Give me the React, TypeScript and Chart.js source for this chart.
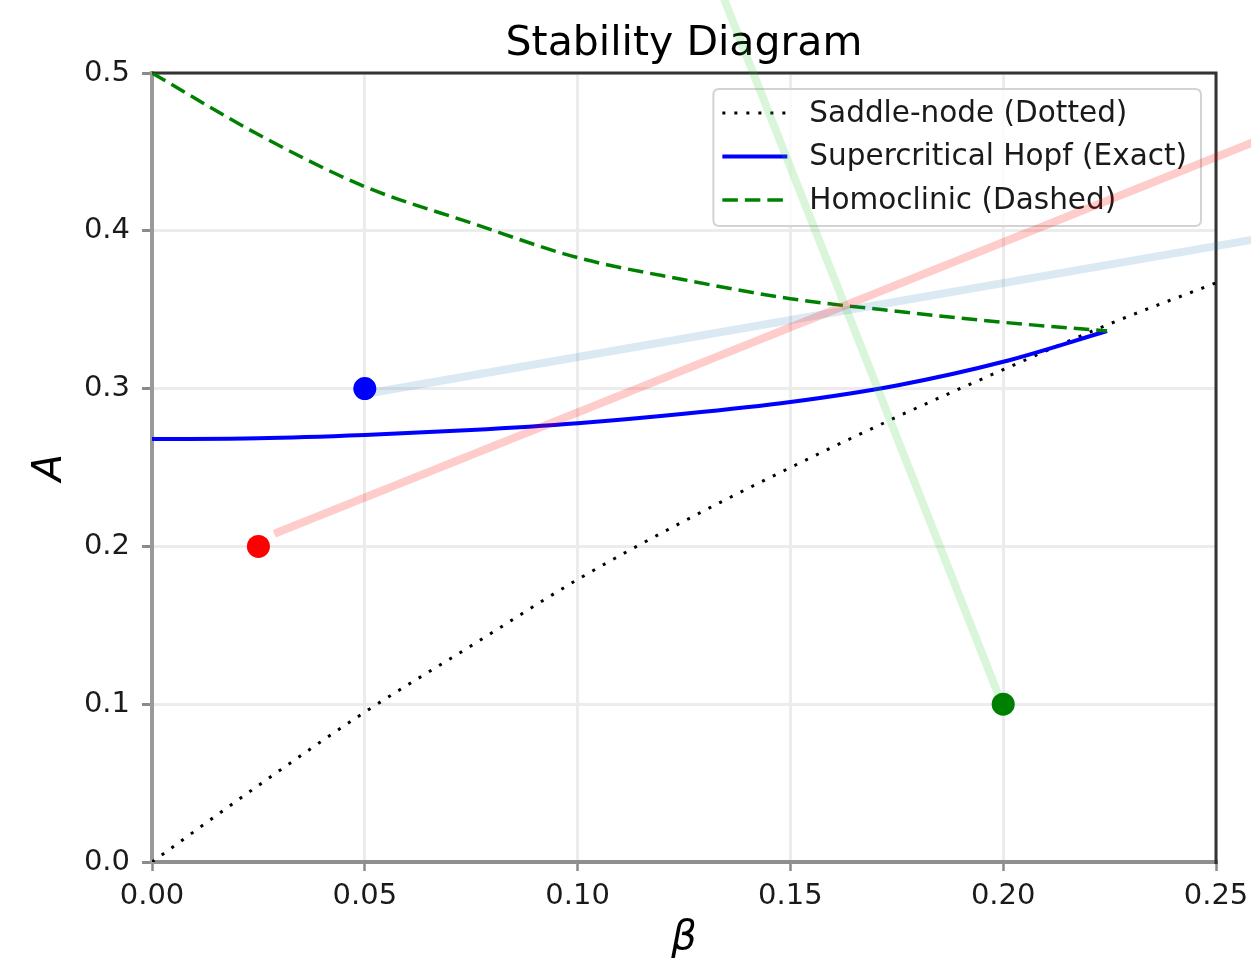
import React, { useEffect, useRef } from 'react';
import { Chart, registerables } from 'chart.js';

Chart.register(...registerables);

const FONT = '"DejaVu Sans", "Liberation Sans", sans-serif';

// Tick labels
const xTickLabels = ['0.00', '0.05', '0.10', '0.15', '0.20', '0.25'];
const yTickLabels = ['0.0', '0.1', '0.2', '0.3', '0.4', '0.5'];

// Saddle-node curve (dotted)
const saddleBeta = [0, 0.025, 0.05, 0.075, 0.1, 0.125, 0.15, 0.175, 0.2, 0.225, 0.25];
const saddleA = [0, 0.0485, 0.095, 0.137, 0.179, 0.216, 0.25, 0.282, 0.312, 0.341, 0.367];

// Hopf and homoclinic branches (end at the common point)
const branchBeta = [0, 0.025, 0.05, 0.075, 0.1, 0.125, 0.15, 0.175, 0.2, 0.2244];
const hopfA = [0.268, 0.2685, 0.2706, 0.2737, 0.278, 0.284, 0.2915, 0.302, 0.317, 0.3365];
const homoclinicA = [0.5, 0.461, 0.428, 0.405, 0.383, 0.369, 0.357, 0.349, 0.342, 0.3365];

// Marked parameter points
const pointBeta = [0.025, 0.05, 0.2];
const pointA = [0.2, 0.3, 0.1];
const pointColors = ['#ff0000', '#0000ff', '#008000'];

// Faint trajectory lines (start / end)
const trajBetaStart = [0.0296, 0.053, 0.1993];
const trajAStart = [0.209, 0.298, 0.103];
const trajBetaEnd = [0.26, 0.26, 0.1325];
const trajAEnd = [0.4575, 0.395, 0.56];
const trajColors = ['rgba(255,0,0,0.2)', 'rgba(31,119,180,0.16)', 'rgba(50,205,50,0.18)'];

const framePlugin = {
  id: 'mplFrame',
  beforeDatasetsDraw(chart: any) {
    const { ctx, chartArea } = chart;
    ctx.save();
    ctx.strokeStyle = '#333333';
    ctx.lineWidth = 3;
    ctx.lineCap = 'butt';
    ctx.beginPath();
    ctx.moveTo(chartArea.left, chartArea.top);
    ctx.lineTo(chartArea.right + 1.5, chartArea.top);
    ctx.moveTo(chartArea.right, chartArea.top);
    ctx.lineTo(chartArea.right, chartArea.bottom + 2);
    ctx.stroke();
    ctx.restore();
  },
};

const legendPlugin = {
  id: 'mplLegend',
  beforeDatasetsDraw(chart: any) {
    const { ctx, chartArea } = chart;
    const entries = chart.data.datasets.filter((d: any) => d.inLegend);
    ctx.save();
    ctx.font = `29.5px ${FONT}`;
    const textW = Math.max(...entries.map((e: any) => ctx.measureText(e.label).width));
    const textOffset = 96;
    const padR = 14;
    const w = textOffset + textW + padR;
    const right = chartArea.right - 15;
    const left = right - w;
    const top = chartArea.top + 16;
    const h = 137;
    const r = 6;
    ctx.beginPath();
    ctx.moveTo(left + r, top);
    ctx.lineTo(right - r, top);
    ctx.quadraticCurveTo(right, top, right, top + r);
    ctx.lineTo(right, top + h - r);
    ctx.quadraticCurveTo(right, top + h, right - r, top + h);
    ctx.lineTo(left + r, top + h);
    ctx.quadraticCurveTo(left, top + h, left, top + h - r);
    ctx.lineTo(left, top + r);
    ctx.quadraticCurveTo(left, top, left + r, top);
    ctx.closePath();
    ctx.fillStyle = 'rgba(255,255,255,0.8)';
    ctx.fill();
    ctx.strokeStyle = '#d3d3d3';
    ctx.lineWidth = 2;
    ctx.stroke();

    entries.forEach((e: any, i: number) => {
      const y = top + 24 + i * 43.5;
      ctx.save();
      ctx.beginPath();
      ctx.strokeStyle = e.borderColor;
      ctx.lineWidth = e.borderWidth;
      ctx.setLineDash(e.borderDash || []);
      ctx.lineCap = 'butt';
      ctx.moveTo(left + 9, y);
      ctx.lineTo(left + 74, y);
      ctx.stroke();
      ctx.restore();
      ctx.fillStyle = '#1a1a1a';
      ctx.textBaseline = 'middle';
      ctx.textAlign = 'left';
      ctx.fillText(e.label, left + textOffset, y + 1);
    });
    ctx.restore();
  },
};

export default function App() {
  const canvasRef = useRef<HTMLCanvasElement | null>(null);

  useEffect(() => {
    document.body.style.margin = '0';
    document.body.style.overflow = 'hidden';
    const canvas = canvasRef.current;
    if (!canvas) return;

    const saddleData = saddleBeta.map((b, i) => ({ x: b, y: saddleA[i] }));
    const hopfData = branchBeta.map((b, i) => ({ x: b, y: hopfA[i] }));
    const homoData = branchBeta.map((b, i) => ({ x: b, y: homoclinicA[i] }));
    const pointData = pointBeta.map((b, i) => ({ x: b, y: pointA[i] }));

    const trajSets = trajColors.map((c, i) => ({
      label: `traj${i}`,
      data: [
        { x: trajBetaStart[i], y: trajAStart[i] },
        { x: trajBetaEnd[i], y: trajAEnd[i] },
      ],
      showLine: true,
      borderColor: c,
      borderWidth: 8,
      borderCapStyle: 'square',
      pointRadius: 0,
      clip: false,
      order: 1,
    }));

    const chart = new Chart(canvas, {
      type: 'scatter',
      data: {
        datasets: [
          {
            label: 'points',
            data: pointData,
            pointRadius: 11.5,
            pointBackgroundColor: pointColors,
            pointBorderWidth: 0,
            showLine: false,
            order: 0,
          },
          ...trajSets,
          {
            label: 'Saddle-node (Dotted)',
            data: saddleData,
            showLine: true,
            borderColor: '#000000',
            borderWidth: 3,
            borderDash: [3, 9],
            borderCapStyle: 'butt',
            pointRadius: 0,
            cubicInterpolationMode: 'monotone',
            order: 4,
            inLegend: true,
          },
          {
            label: 'Supercritical Hopf (Exact)',
            data: hopfData,
            showLine: true,
            borderColor: '#0000ff',
            borderWidth: 4,
            pointRadius: 0,
            cubicInterpolationMode: 'monotone',
            order: 3,
            inLegend: true,
          },
          {
            label: 'Homoclinic (Dashed)',
            data: homoData,
            showLine: true,
            borderColor: '#008000',
            borderWidth: 3.5,
            borderDash: [15.5, 7],
            borderCapStyle: 'butt',
            pointRadius: 0,
            cubicInterpolationMode: 'monotone',
            order: 2,
            inLegend: true,
          },
        ] as any,
      },
      options: {
        animation: false,
        responsive: false,
        devicePixelRatio: 1,
        events: [],
        layout: { padding: { top: 0, left: 0, right: 35, bottom: 0 } },
        plugins: {
          legend: { display: false },
          tooltip: { enabled: false },
          title: {
            display: true,
            fullSize: false,
            text: 'Stability Diagram',
            color: '#000000',
            font: { family: FONT, size: 41, weight: 'normal', lineHeight: 1.2 },
            padding: { top: 20, bottom: 3.8 },
          },
        },
        scales: {
          x: {
            type: 'linear',
            min: 0,
            max: 0.25,
            ticks: {
              stepSize: 0.05,
              autoSkip: false,
              maxRotation: 0,
              callback: (_v: any, i: number) => xTickLabels[i],
              font: { family: FONT, size: 29 },
              color: '#1a1a1a',
              padding: 8,
            },
            grid: { color: '#ececec', lineWidth: 3, tickLength: 9, tickColor: '#8a8a8a', tickWidth: 2.5 },
            border: { color: '#8f8f8f', width: 4 },
            title: {
              display: true,
              text: 'β',
              color: '#000000',
              font: { family: FONT, size: 40, style: 'italic' },
              padding: { top: 0, bottom: 5 },
            },
            afterFit: (s: any) => {
              s.height = 106;
              s.paddingLeft = 0;
              s.paddingRight = 0;
            },
          },
          y: {
            type: 'linear',
            min: 0,
            max: 0.5,
            ticks: {
              stepSize: 0.1,
              autoSkip: false,
              callback: (_v: any, i: number) => yTickLabels[i],
              font: { family: FONT, size: 29 },
              color: '#1a1a1a',
              padding: 12,
            },
            grid: { color: '#ececec', lineWidth: 3, tickLength: 10, tickColor: '#8a8a8a', tickWidth: 3 },
            border: { color: '#999999', width: 4 },
            title: {
              display: true,
              text: 'A',
              color: '#000000',
              font: { family: FONT, size: 40, style: 'italic' },
              padding: { top: 27, bottom: 0 },
            },
            afterFit: (s: any) => {
              s.width = 152;
              s.paddingTop = 0;
              s.paddingBottom = 0;
            },
          },
        },
      } as any,
      plugins: [framePlugin, legendPlugin],
    });

    return () => {
      chart.destroy();
    };
  }, []);

  return (
    <div style={{ width: 1251, height: 968, position: 'relative' }}>
      <canvas ref={canvasRef} width={1251} height={968} style={{ display: 'block', width: 1251, height: 968 }} />
    </div>
  );
}
